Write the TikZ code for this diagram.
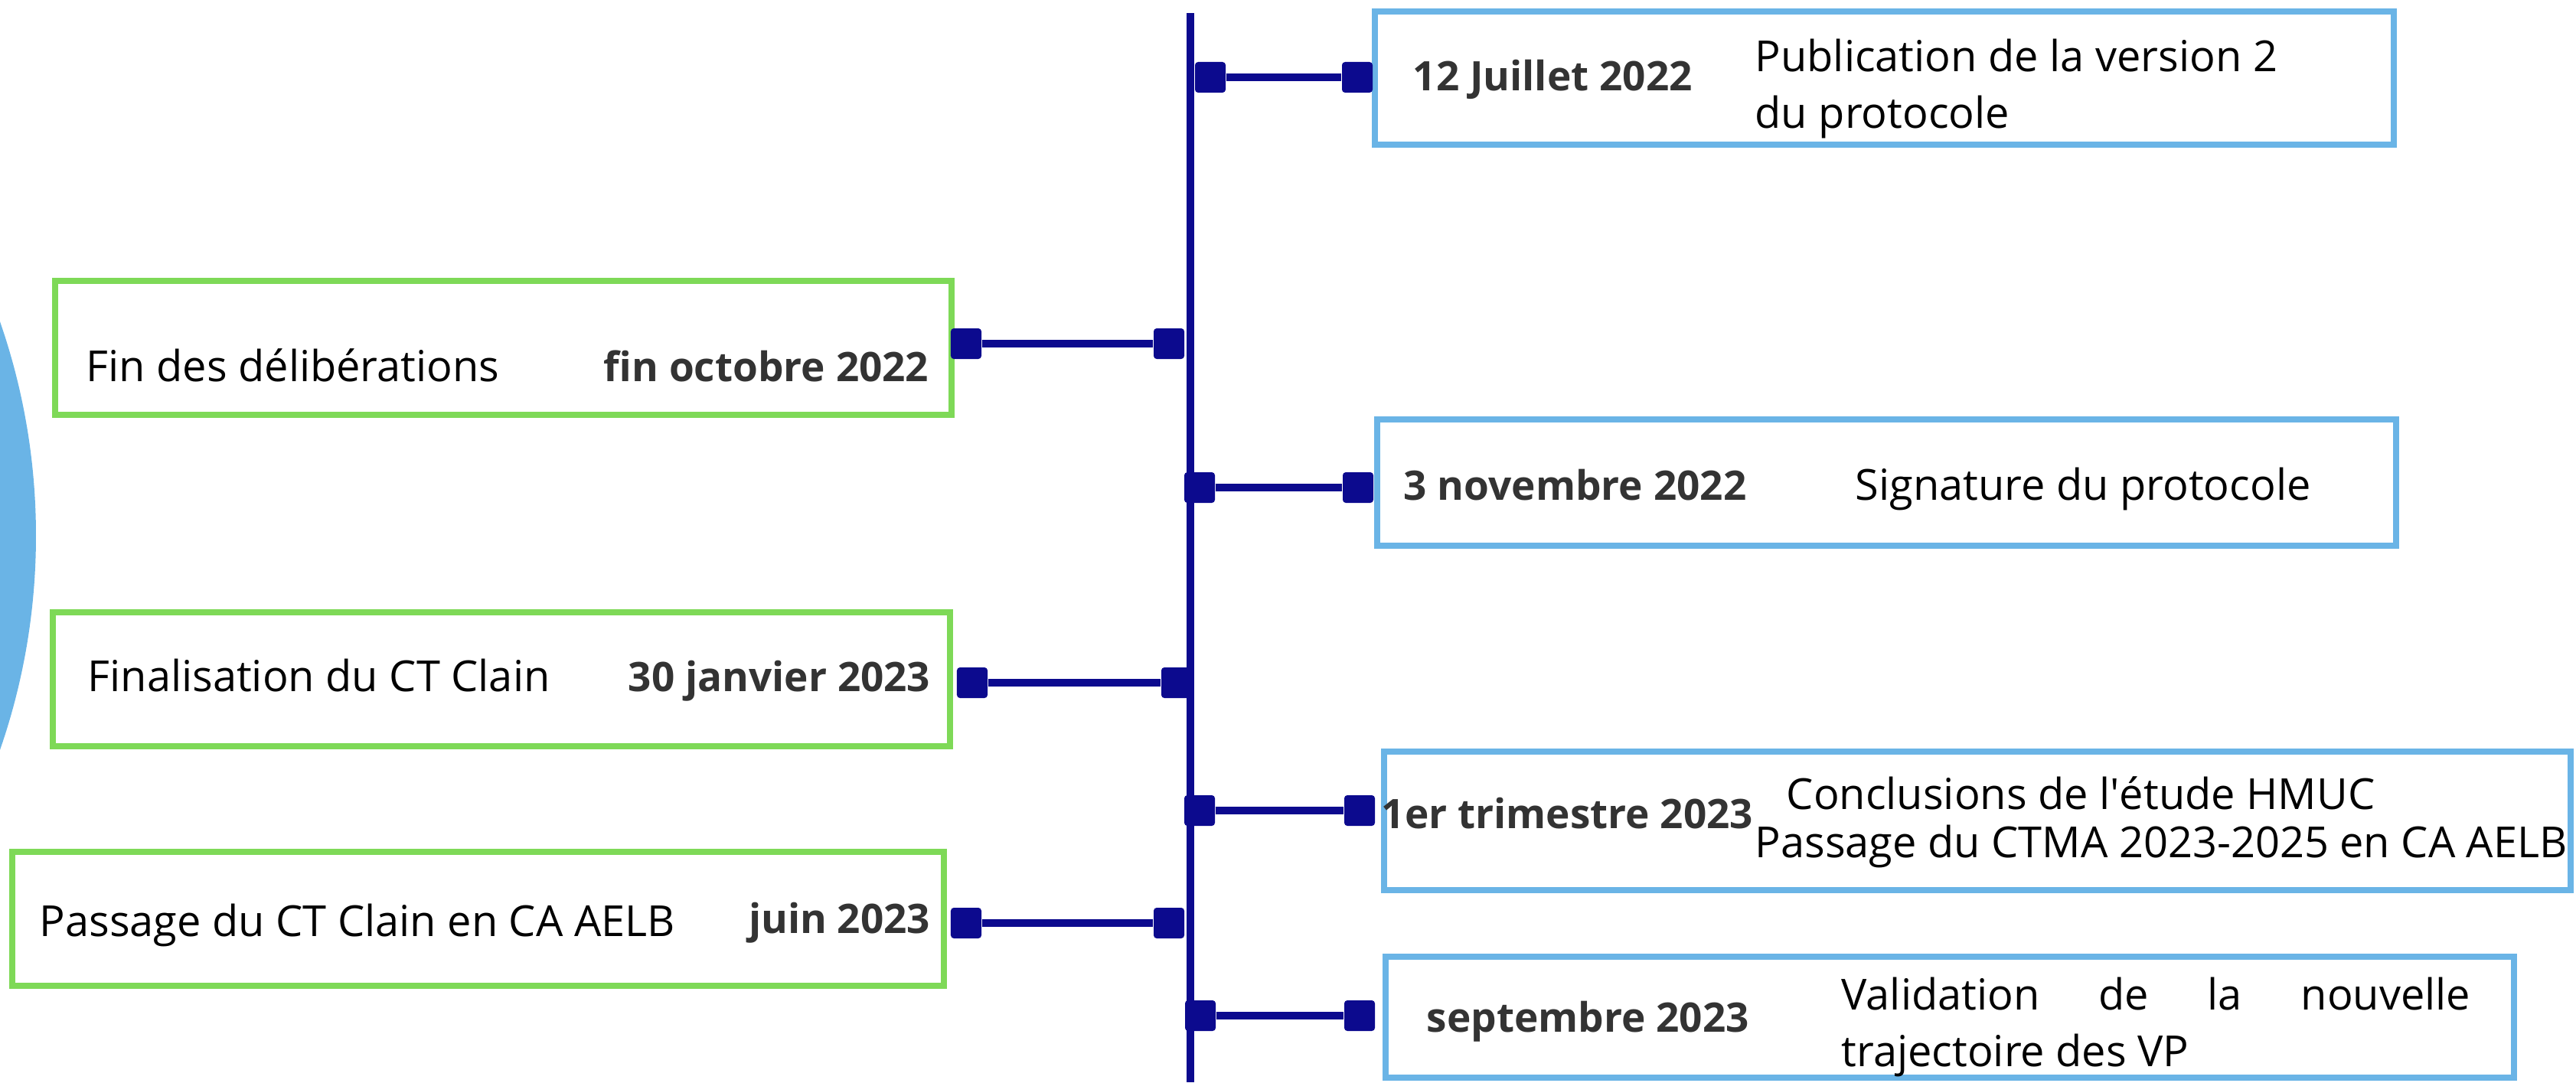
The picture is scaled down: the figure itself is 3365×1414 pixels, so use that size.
\documentclass[tikz,border=0pt]{standalone}
\usepackage{fontspec}
\setmainfont{Open Sans}
\definecolor{navy}{HTML}{0C0A8E}
\definecolor{skyb}{HTML}{6AB4E6}
\definecolor{leafg}{HTML}{7ED957}
\definecolor{darkgrey}{HTML}{333333}
\newcommand\datefont{\fontsize{15.1}{21}\selectfont\bfseries}
\newcommand\whatfont{\fontsize{15.9}{21}\selectfont}

\begin{document}
\begin{tikzpicture}[x=0.01cm,y=-0.01cm,
  bluebox/.style={draw=skyb, line width=0.08cm, inner sep=0},
  greenbox/.style={draw=leafg, line width=0.08cm, inner sep=0},
  pin/.style={fill=navy, rounded corners=0.04cm, minimum size=0.4cm, inner sep=0},
  link/.style={draw=navy, line width=0.1cm},
  date/.style={font=\datefont, text=darkgrey, anchor=base west, inner sep=0},
  what/.style={font=\whatfont, anchor=base west, inner sep=0, align=left}]
  \useasboundingbox (0,0) rectangle (3365,1414);
  \fill[skyb] (-805,700) circle (852);
  \coordinate (top) at (1555,17);
  \coordinate (bot) at (1555,1414);
  \draw[navy, line width=0.1cm] (top) -- (bot);

  \node[bluebox, minimum width=13.31cm, minimum height=1.74cm] (box1) at (2461.5,102) {};
  \node[greenbox, minimum width=11.71cm, minimum height=1.75cm] (box2) at (657.5,454.5) {};
  \node[bluebox, minimum width=13.31cm, minimum height=1.65cm] (box3) at (2464.5,630.5) {};
  \node[greenbox, minimum width=11.72cm, minimum height=1.75cm] (box4) at (655,887.5) {};
  \node[bluebox, minimum width=15.5cm, minimum height=1.81cm] (box5) at (2583,1072.5) {};
  \node[greenbox, minimum width=12.17cm, minimum height=1.75cm] (box6) at (624.5,1200.5) {};
  \node[bluebox, minimum width=14.74cm, minimum height=1.58cm] (box7) at (2547,1329) {};

  \node[date] (date1) at (1845,118) {12 Juillet 2022};
  \node[what] (what1) at (2292,167) {Publication de la version 2\\du protocole};
  \node[what] (what2) at (112,498) {Fin des délibérations};
  \node[date, anchor=base east] (date2) at (1214,498) {fin octobre 2022};
  \node[date] (date3) at (1833,653) {3 novembre 2022};
  \node[what] (what3) at (2423,653) {Signature du protocole};
  \node[what] (what4) at (114,903) {Finalisation du CT Clain};
  \node[date, anchor=base east] (date4) at (1216,903) {30 janvier 2023};
  \node[date] (date5) at (1804,1082) {1er trimestre 2023};
  \node[what] (what5a) at (2333,1057) {Conclusions de l\textquotesingle étude HMUC};
  \node[what] (what5b) at (2292,1120) {Passage du CTMA 2023-2025 en CA AELB};
  \node[what] (what6) at (51,1223) {Passage du CT Clain en CA AELB};
  \node[date, anchor=base east] (date6) at (1216,1219) {juin 2023};
  \node[date] (date7) at (1863,1348) {septembre 2023};
  \node[what] (what7) at (2405,1393) {\makebox[8.21cm][s]{Validation de la nouvelle}\\trajectoire des VP};

  \node[pin] (ma1) at (1581,101) {};
  \node[pin] (mb1) at (1773,101) {};
  \node[pin] (mb2) at (1262,449) {};
  \node[pin] (ma2) at (1527,449) {};
  \node[pin] (ma3) at (1567,637) {};
  \node[pin] (mb3) at (1774,637) {};
  \node[pin] (mb4) at (1270,892) {};
  \node[pin] (ma4) at (1537,892) {};
  \node[pin] (ma5) at (1567,1059) {};
  \node[pin] (mb5) at (1776,1059) {};
  \node[pin] (mb6) at (1262,1206) {};
  \node[pin] (ma6) at (1527,1206) {};
  \node[pin] (ma7) at (1568,1327) {};
  \node[pin] (mb7) at (1776,1327) {};
  \path[link]
  (ma1) edge (mb1)
  (mb2) edge (ma2)
  (ma3) edge (mb3)
  (mb4) edge (ma4)
  (ma5) edge (mb5)
  (mb6) edge (ma6)
  (ma7) edge (mb7)
  ;
\end{tikzpicture}
\end{document}
